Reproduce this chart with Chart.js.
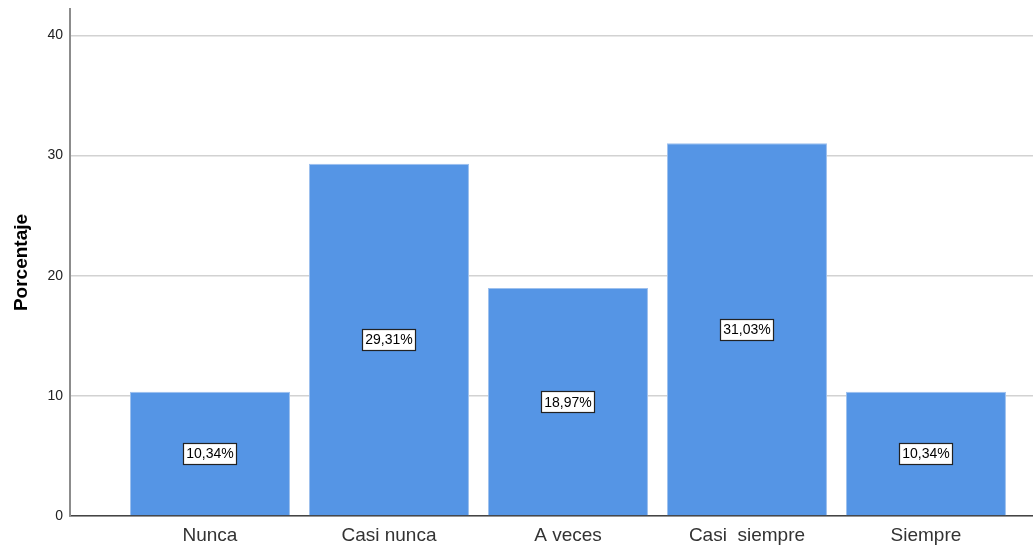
<!DOCTYPE html>
<html>
<head>
  <title>Porcentaje</title>
  <style>
    body {
      margin: 0;
      background-color: #ffffff;
    }
    .chart-container {
      width: 1033px;
      height: 549px;
    }
  </style>
</head>
<body>
  <div class="chart-container">
    <canvas id="porcentajeChart"></canvas>
  </div>

  <script src="https://cdn.jsdelivr.net/npm/chart.js"></script>
  <script>
    const categorias = ['Nunca', 'Casi nunca', 'A veces', 'Casi  siempre', 'Siempre'];
    const porcentajes = [10.34, 29.31, 18.97, 31.03, 10.34];
    const ticksY = [0, 10, 20, 30, 40];

    function formato(v) {
      return v.toFixed(2).replace('.', ',') + '%';
    }

    // Etiquetas en cajas blancas en el centro de cada barra
    const etiquetasBarras = {
      id: 'etiquetasBarras',
      afterDatasetsDraw(chart) {
        const ctx = chart.ctx;
        const meta = chart.getDatasetMeta(0);
        ctx.save();
        ctx.font = '14px "Liberation Sans", Arial, sans-serif';
        ctx.textAlign = 'center';
        ctx.textBaseline = 'middle';
        meta.data.forEach((bar, i) => {
          const texto = formato(porcentajes[i]);
          const w = ctx.measureText(texto).width + 6;
          const h = 21;
          const cx = bar.x;
          const cy = (bar.y + bar.base) / 2;
          ctx.fillStyle = '#ffffff';
          ctx.fillRect(Math.round(cx - w / 2) + 0.5, Math.round(cy - h / 2) + 0.5, Math.round(w), h);
          ctx.strokeStyle = '#222222';
          ctx.lineWidth = 1.2;
          ctx.strokeRect(Math.round(cx - w / 2) + 0.5, Math.round(cy - h / 2) + 0.5, Math.round(w), h);
          ctx.fillStyle = '#000000';
          ctx.fillText(texto, cx, cy + 1);
        });
        ctx.restore();
      }
    };

    const ctx = document.getElementById('porcentajeChart').getContext('2d');
    new Chart(ctx, {
      type: 'bar',
      data: {
        datasets: [{
          label: 'Porcentaje',
          data: porcentajes.map((v, i) => ({ x: i, y: v })),
          backgroundColor: '#5595e5',
          borderColor: '#9dc0ee',
          borderWidth: 1,
          barPercentage: 0.894,
          categoryPercentage: 1.0
        }]
      },
      options: {
        responsive: true,
        maintainAspectRatio: false,
        animation: false,
        layout: {
          padding: { top: 9, right: 0, bottom: 0, left: 0 }
        },
        plugins: {
          legend: { display: false },
          tooltip: { enabled: false }
        },
        scales: {
          x: {
            type: 'linear',
            offset: false,
            min: -0.782,
            max: 4.598,
            afterFit: s => { s.height = 33; s.paddingLeft = 0; s.paddingRight = 0; },
            afterBuildTicks: s => { s.ticks = categorias.map((c, i) => ({ value: i })); },
            grid: { display: false, drawTicks: false },
            border: { color: '#444444', width: 1.5 },
            ticks: {
              padding: 8,
              color: '#333333',
              font: { family: '"Liberation Sans", Arial, sans-serif', size: 19 },
              maxRotation: 0,
              callback: v => categorias[v]
            }
          },
          y: {
            min: 0,
            max: 42.2,
            afterFit: s => { s.width = 70; s.paddingTop = 0; s.paddingBottom = 0; },
            afterBuildTicks: s => { s.ticks = ticksY.map(v => ({ value: v })); },
            grid: { color: '#d2d2d2', lineWidth: 1.5, drawTicks: false },
            border: { color: '#8c8c8c', width: 2 },
            ticks: {
              padding: 7,
              color: '#222222',
              font: { family: '"Liberation Sans", Arial, sans-serif', size: 14 }
            },
            title: {
              display: true,
              text: 'Porcentaje',
              color: '#000000',
              font: { family: '"Liberation Sans", Arial, sans-serif', size: 19, weight: 'bold' },
              padding: { top: 10, bottom: 0 }
            }
          }
        }
      },
      plugins: [etiquetasBarras]
    });
  </script>
</body>
</html>
